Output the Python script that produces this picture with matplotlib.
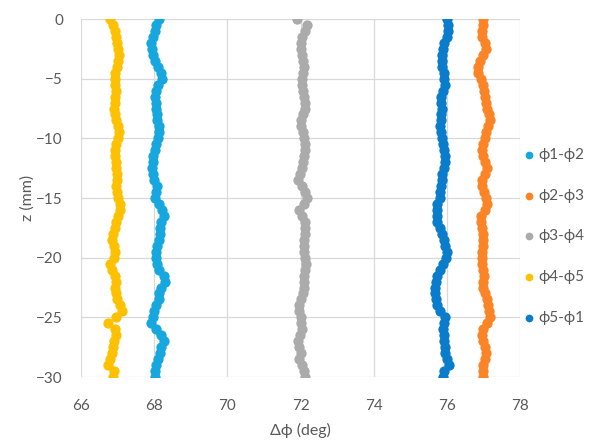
import matplotlib.pyplot as plt

plt.rcParams['font.family'] = ['Lato', 'DejaVu Sans']

# depth samples (mm)
z = [0, -0.5, -1, -1.5, -2, -2.5, -3, -3.5, -4, -4.5, -5, -5.5, -6, -6.5, -7, -7.5,
     -8, -8.5, -9, -9.5, -10, -10.5, -11, -11.5, -12, -12.5, -13, -13.5, -14, -14.5,
     -15, -15.5, -16, -16.5, -17, -17.5, -18, -18.5, -19, -19.5, -20, -20.5, -21,
     -21.5, -22, -22.5, -23, -23.5, -24, -24.5, -25, -25.5, -26, -26.5, -27, -27.5,
     -28, -28.5, -29, -29.5, -30]

d12 = [68.13, 68.05, 68.02, 67.96, 67.92, 67.94, 67.97, 68.02, 68.10, 68.18, 68.22,
       68.10, 68.04, 68.03, 68.04, 68.05, 68.08, 68.09, 68.12, 68.13, 68.10, 68.06,
       68.03, 67.98, 67.96, 67.94, 67.96, 68.00, 68.08, 68.06, 68.02, 68.12, 68.22,
       68.27, 68.20, 68.16, 68.15, 68.12, 68.08, 68.05, 68.04, 68.08, 68.14, 68.26,
       68.30, 68.20, 68.14, 68.12, 68.06, 68.00, 67.96, 67.92, 68.05, 68.18, 68.26,
       68.20, 68.15, 68.10, 68.06, 68.03, 68.03]

d23 = [76.98, 77.00, 76.96, 76.97, 77.05, 77.08, 77.00, 76.90, 76.84, 76.86, 76.92,
       76.98, 77.02, 77.04, 77.06, 77.10, 77.15, 77.17, 77.12, 77.08, 77.04, 76.98,
       76.95, 76.98, 77.04, 77.09, 77.05, 76.96, 76.95, 77.02, 77.06, 77.09, 77.04,
       76.93, 76.92, 76.95, 76.98, 77.00, 76.98, 76.96, 76.95, 76.97, 77.00, 77.01,
       77.00, 77.00, 77.04, 77.10, 77.13, 77.16, 77.18, 77.10, 77.00, 76.97, 76.98,
       77.05, 77.08, 77.04, 76.98, 76.98, 76.98]

d34 = [71.91, 72.18, 72.13, 72.05, 72.00, 72.02, 72.04, 72.07, 72.09, 72.07, 72.04,
       72.03, 72.06, 72.09, 72.11, 72.13, 72.08, 72.00, 72.02, 72.07, 72.09, 72.12,
       72.13, 72.10, 72.06, 72.03, 71.98, 71.94, 72.05, 72.13, 72.18, 72.10, 71.95,
       72.05, 72.12, 72.13, 72.11, 72.10, 72.09, 72.09, 72.11, 72.14, 72.12, 72.10,
       72.09, 72.09, 72.07, 72.00, 71.95, 71.97, 72.00, 72.02, 72.04, 71.98, 71.93,
       71.97, 72.01, 71.96, 72.03, 72.10, 72.12]

d45 = [66.80, 66.88, 66.92, 66.96, 66.99, 67.02, 67.04, 67.02, 66.98, 66.94, 66.92,
       66.93, 66.95, 66.94, 66.92, 66.91, 66.94, 66.96, 67.00, 67.04, 67.00, 66.95,
       66.92, 66.93, 66.95, 66.96, 66.98, 66.99, 66.96, 66.98, 67.02, 67.06, 67.07,
       67.00, 66.95, 66.93, 66.88, 66.84, 66.90, 66.94, 66.90, 66.80, 66.86, 66.93,
       66.95, 66.94, 66.96, 66.99, 67.06, 67.12, 66.95, 66.75, 66.92, 66.95, 66.90,
       66.88, 66.84, 66.80, 66.74, 66.90, 66.88]

d51 = [76.00, 76.02, 76.04, 76.00, 75.93, 75.90, 75.87, 75.86, 75.88, 75.91, 75.93,
       75.95, 75.90, 75.83, 75.84, 75.86, 75.85, 75.83, 75.82, 75.83, 75.86, 75.90,
       75.92, 75.94, 75.95, 75.92, 75.88, 75.86, 75.83, 75.81, 75.80, 75.74, 75.72,
       75.73, 75.73, 75.80, 75.88, 75.92, 75.96, 76.00, 75.98, 75.90, 75.80, 75.74,
       75.70, 75.68, 75.68, 75.69, 75.72, 75.80, 75.94, 75.92, 75.90, 75.91, 75.92,
       75.94, 75.96, 76.00, 76.06, 75.93, 75.90]

labels = ['\u03d51-\u03d52', '\u03d52-\u03d53', '\u03d53-\u03d54', '\u03d54-\u03d55', '\u03d55-\u03d51']
colors = ['#15a7de', '#fb8526', '#ababab', '#fdc101', '#0a7ccc']
xticks = [66, 68, 70, 72, 74, 76, 78]
yticks = [0, -5, -10, -15, -20, -25, -30]

fig = plt.figure(figsize=(6.1, 4.42), dpi=100)
# plot area spans x 81..520 px, y 19..377 px
ax = fig.add_axes([0.1328, 0.147, 0.7197, 0.81])

for vals, lab, col in zip([d12, d23, d34, d45, d51], labels, colors):
    ax.scatter(vals, z, s=55, color=col, label=lab, linewidths=0, zorder=3)

ax.set_xlim(66, 78)
ax.set_ylim(-30, 0)
ax.set_xticks(xticks)
ax.set_yticks(yticks)
ax.grid(True, color='#d9d9d9', linewidth=0.9)
ax.set_axisbelow(True)
for s in ax.spines.values():
    s.set_visible(False)
ax.tick_params(length=0, labelsize=11, labelcolor='#595959')
ax.tick_params(axis='x', pad=16)
ax.tick_params(axis='y', pad=13)
ax.set_xlabel('\u0394\u03d5 (deg)', fontsize=11.5, color='#595959', labelpad=7)
ax.set_ylabel('z (mm)', fontsize=11.5, color='#595959', labelpad=1)

leg = ax.legend(loc='center left', bbox_to_anchor=(0.99, 0.393), frameon=False,
                fontsize=11, labelspacing=1.75, handletextpad=0.1, markerscale=0.75,
                handlelength=1.0, borderaxespad=0.0)
for t in leg.get_texts():
    t.set_color('#595959')

fig.savefig('out.png', dpi=100)
